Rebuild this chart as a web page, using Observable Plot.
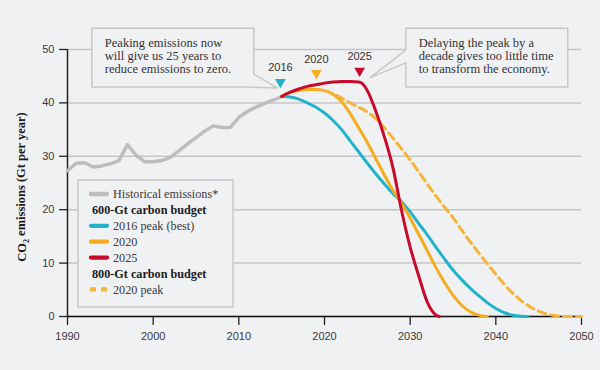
<!DOCTYPE html>
<html>
<head>
<meta charset="utf-8">
<script src="https://cdn.jsdelivr.net/npm/d3@7"></script>
<script src="https://cdn.jsdelivr.net/npm/@observablehq/plot@0.6"></script>
<style>
  html, body { margin: 0; padding: 0; background: #f0f1f3; }
  #chart svg { display: block; }
</style>
</head>
<body>
<div id="chart"></div>
<script>
// ---------- Data ----------
const xTicks = [1990, 2000, 2010, 2020, 2030, 2040, 2050];
const yTicks = [0, 10, 20, 30, 40, 50];

const histYears  = [1990,1991,1992,1993,1994,1995,1996,1997,1998,1999,2000,2001,2002,2003,2004,2005,2006,2007,2008,2009,2010,2011,2012,2013,2014,2015];
const histValues = [27.3,28.7,28.8,28.0,28.2,28.6,29.2,32.2,30.2,29.0,29.0,29.2,29.8,31.0,32.3,33.5,34.7,35.7,35.4,35.4,37.3,38.4,39.2,39.9,40.5,41.2];

const peak2016Years  = [2015,2016,2017,2018,2019,2020,2021,2022,2023,2024,2025,2026,2027,2028,2029,2030,2031,2032,2033,2034,2035,2036,2037,2038,2039,2040,2041,2042,2043,2043.7];
const peak2016Values = [41.2,41.1,40.7,40.0,39.2,38.1,36.7,35.0,32.9,30.8,28.7,26.7,24.8,23.0,21.5,19.6,17.4,15.3,13.0,10.8,8.7,6.9,5.3,3.9,2.6,1.5,0.7,0.25,0.05,0];

const peak2020Years  = [2015,2016,2017,2018,2019,2020,2021,2022,2023,2024,2025,2026,2027,2028,2029,2030,2031,2032,2033,2034,2035,2036,2037,2038,2039];
const peak2020Values = [41.2,42.0,42.3,42.5,42.5,42.3,41.6,40.2,38.0,35.3,32.6,29.5,26.5,23.6,21.2,18.4,15.4,12.3,9.2,6.4,4.0,2.1,0.9,0.25,0];

const peak2025Years  = [2015,2016,2017,2018,2019,2020,2021,2022,2023,2024,2024.5,2025,2026,2027,2028,2029,2030,2031,2032,2033,2033.4];
const peak2025Values = [41.2,42.0,42.6,43.1,43.4,43.7,43.9,44.0,44.0,43.9,43.5,42.3,38.4,33.6,27.8,19.8,13.0,7.6,2.7,0.3,0];

const budget800Years  = [2020,2021,2022,2023,2024,2025,2026,2027,2028,2029,2030,2031,2032,2033,2034,2035,2036,2037,2038,2039,2040,2041,2042,2043,2044,2045,2046,2047,2048,2049,2050];
const budget800Values = [42.3,41.7,40.9,40.0,39.2,38.3,37.0,35.3,33.4,31.4,29.3,27.1,24.8,22.6,20.5,18.5,16.2,14.0,11.9,9.9,7.9,6.0,4.3,2.9,1.8,1.0,0.45,0.15,0.02,0,0];

const peakLabels      = ["2016", "2020", "2025"];
const peakMarkerYears = [2014.85, 2019.05, 2024.1];
const peakMarkerVals  = [43.9, 45.6, 46.0];
const peakLabelVals   = [46.7, 48.1, 48.7];

const legendLabels = ["Historical emissions*", "600-Gt carbon budget", "2016 peak (best)", "2020", "2025", "800-Gt carbon budget", "2020 peak"];
const noteLeft  = ["Peaking emissions now", "will give us 25 years to", "reduce emissions to zero."];
const noteRight = ["Delaying the peak by a", "decade gives too little time", "to transform the economy."];

// ---------- Styles ----------
const BG = "#f0f1f3";
const C_HIST = "#bebdbd", C_CYAN = "#22b3ca", C_ORANGE = "#f4ad1f", C_RED = "#c80a2c", C_DASH = "#f4b53a";
const SERIF = "'Liberation Serif', 'DejaVu Serif', serif";

const rows = (xs, ys) => xs.map((x, i) => ({x, y: ys[i]}));
const peaks = peakLabels.map((label, i) => ({label, x: peakMarkerYears[i], y: peakMarkerVals[i], ly: peakLabelVals[i], color: [C_CYAN, C_ORANGE, C_RED][i]}));

const plot = Plot.plot({
  width: 600,
  height: 370,
  marginLeft: 67,
  marginRight: 19,
  marginTop: 49,
  marginBottom: 54,
  style: {background: BG, fontFamily: "'Liberation Sans', Arial, sans-serif", fontSize: "11px", color: "#3a3a3a", overflow: "visible"},
  x: {domain: [1990, 2050]},
  y: {domain: [0, 50]},
  marks: [
    Plot.gridY({ticks: yTicks, stroke: "#c6c6c6", strokeOpacity: 1, strokeWidth: 1.5}),
    Plot.axisY({ticks: yTicks, tickSize: 8, tickPadding: 5, label: null, stroke: "#222", strokeWidth: 1.3}),
    Plot.axisX({ticks: xTicks, tickSize: 9, tickPadding: 7, tickFormat: "d", label: null, stroke: "#222", strokeWidth: 1.3}),
    Plot.ruleX([1990], {stroke: "#222", strokeWidth: 1.5}),
    Plot.ruleY([0], {stroke: "#111", strokeWidth: 1.5}),
    Plot.line(rows(histYears, histValues), {x: "x", y: "y", stroke: C_HIST, strokeWidth: 3.5, strokeLinejoin: "round"}),
    Plot.line(rows(peak2016Years, peak2016Values), {x: "x", y: "y", curve: "monotone-x", stroke: C_CYAN, strokeWidth: 3}),
    Plot.line(rows(peak2020Years, peak2020Values), {x: "x", y: "y", curve: "monotone-x", stroke: C_ORANGE, strokeWidth: 3}),
    Plot.line(rows(budget800Years, budget800Values), {x: "x", y: "y", curve: "monotone-x", stroke: C_DASH, strokeWidth: 3, strokeDasharray: "8,5"}),
    Plot.line(rows(peak2025Years, peak2025Values), {x: "x", y: "y", curve: "monotone-x", stroke: C_RED, strokeWidth: 3}),
    Plot.dot(peaks, {x: "x", y: "y", symbol: "triangle", rotate: 180, r: 4, fill: "color", stroke: null}),
    Plot.text(peaks, {x: "x", y: "ly", text: "label", fill: "#333", fontSize: 11})
  ]
});

document.getElementById("chart").appendChild(plot);

// ---------- Annotations, legend and y title ----------
const sxs = plot.scale("x"), sys = plot.scale("y");
const X = d3.scaleLinear(sxs.domain, sxs.range);
const Y = d3.scaleLinear(sys.domain, sys.range);
const svg = d3.select(plot);
const firstLine = plot.querySelector('g[aria-label="line"]');
const noteG = document.createElementNS("http://www.w3.org/2000/svg", "g");
plot.insertBefore(noteG, firstLine);
const ng = d3.select(noteG);

function callout(box, tail, lines) {
  const x1 = X(box.x1), x2 = X(box.x2), y1 = Y(box.y1), y2 = Y(box.y2);
  const p = d3.path();
  if (tail.side === "right") {
    p.moveTo(x1, y1); p.lineTo(x2, y1); p.lineTo(x2, Y(tail.a));
    p.lineTo(X(tail.tx), Y(tail.ty)); p.lineTo(X(tail.b), y2); p.lineTo(x1, y2); p.closePath();
  } else {
    p.moveTo(x1, y1); p.lineTo(x2, y1); p.lineTo(x2, y2); p.lineTo(x1, y2);
    p.lineTo(x1, Y(tail.b)); p.lineTo(X(tail.tx), Y(tail.ty)); p.lineTo(x1, Y(tail.a)); p.closePath();
  }
  ng.append("path").attr("d", p.toString()).attr("fill", BG).attr("stroke", "#c8c8c8").attr("stroke-width", 1.5).attr("stroke-linejoin", "miter");
  const t = ng.append("text").attr("text-anchor", "start").attr("font-family", SERIF).attr("font-size", 12.5).attr("fill", "#333");
  lines.forEach((s, i) => t.append("tspan").attr("x", x1 + 13).attr("y", y1 + 19 + i * 12.8).text(s));
}
callout({x1: 1992.9, x2: 2011.8, y1: 53.9, y2: 42.9}, {side: "right", a: 45.3, b: 2010.5, tx: 2014.55, ty: 42.7}, noteLeft);
callout({x1: 2029.55, x2: 2048.45, y1: 53.9, y2: 42.9}, {side: "left", a: 49.8, b: 47.4, tx: 2025.35, ty: 44.6}, noteRight);

// legend
const lg = svg.append("g").attr("text-anchor", "start");
lg.append("rect").attr("x", 78).attr("y", 180).attr("width", 155).attr("height", 127)
  .attr("fill", BG).attr("stroke", "#c8c8c8").attr("stroke-width", 1.5);
const legendKinds = [
  {color: C_HIST}, {head: true}, {color: C_CYAN}, {color: C_ORANGE}, {color: C_RED}, {head: true}, {color: C_DASH, dash: "6,5"}
];
legendLabels.forEach((label, i) => {
  const k = legendKinds[i];
  const yy = 194 + i * 15.9;
  if (!k.head) {
    lg.append("line").attr("x1", k.dash ? 90 : 91).attr("x2", k.dash ? 109 : 107).attr("y1", yy).attr("y2", yy)
      .attr("stroke", k.color).attr("stroke-width", 4.3)
      .attr("stroke-linecap", k.dash ? "butt" : "round")
      .attr("stroke-dasharray", k.dash || null);
  }
  lg.append("text").attr("text-anchor", "start").attr("x", k.head ? 92 : 113).attr("y", yy).attr("dy", "0.35em")
    .attr("font-family", SERIF).attr("font-size", 12.2)
    .attr("font-weight", k.head ? "bold" : "normal")
    .attr("fill", k.head ? "#1a1a1a" : "#3a3a3a").text(label);
});

// y-axis title
const yt = svg.append("text").attr("transform", "translate(22,187) rotate(-90)")
  .attr("text-anchor", "middle").attr("dy", "0.35em")
  .attr("font-family", SERIF).attr("font-weight", "bold").attr("font-size", 12.5).attr("fill", "#1a1a1a");
yt.append("tspan").text("CO");
yt.append("tspan").attr("font-size", 8).attr("dy", "0.35em").text("2");
yt.append("tspan").attr("dy", "-0.35em").text(" emissions (Gt per year)");
</script>
</body>
</html>
